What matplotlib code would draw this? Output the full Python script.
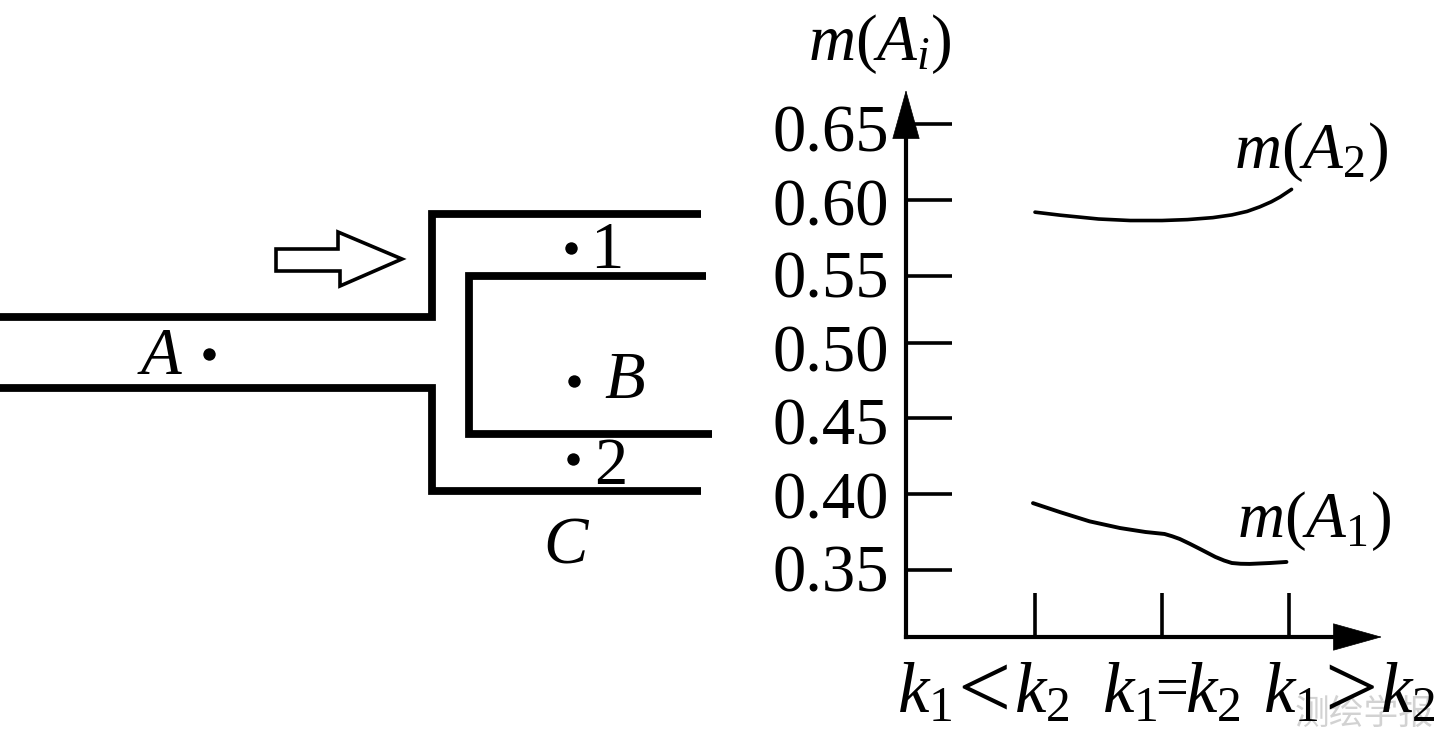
import matplotlib
matplotlib.use("Agg")
import matplotlib.pyplot as plt
import numpy as np
from matplotlib.patches import Polygon
from matplotlib.ticker import NullLocator
from matplotlib.transforms import ScaledTranslation

plt.rcParams["font.family"] = ["Liberation Serif", "DejaVu Sans"]
plt.rcParams["mathtext.fontset"] = "custom"
plt.rcParams["mathtext.rm"] = "Liberation Serif"
plt.rcParams["mathtext.it"] = "Liberation Serif:italic"
plt.rcParams["mathtext.bf"] = "Liberation Serif:bold"

# chart values
y_ticks = [0.35, 0.40, 0.45, 0.50, 0.55, 0.60, 0.65]
y_tick_px = [570, 494, 418, 343, 276, 200, 124]  # ticks are not evenly drawn in the source
x_ticks = [0, 1, 2]

a2_x = [0, 0.2, 0.5, 0.75, 1, 1.2, 1.4, 1.55, 1.67, 1.77, 1.86, 1.93, 2.02]
a2_y = [0.592, 0.590, 0.5875, 0.5865, 0.5865, 0.5871, 0.5884, 0.5902, 0.5925, 0.5955, 0.5988, 0.602, 0.607]
a1_x = [-0.016, 0.2, 0.43, 0.67, 0.87, 1.02, 1.08, 1.14, 1.22, 1.3, 1.42, 1.49, 1.55, 1.62, 1.69, 1.85, 1.98]
a1_y = [0.394, 0.388, 0.382, 0.3776, 0.375, 0.3737, 0.3722, 0.3704, 0.3672, 0.3638, 0.3586, 0.3562, 0.3546, 0.3541, 0.354, 0.3546, 0.3553]

# schematic
upper_wall = ([0, 432, 432, 701], [317, 317, 214, 214])
lower_wall = ([0, 432, 432, 701], [388, 388, 491, 491])
inner_wall = ([706, 469, 469, 712], [276, 276, 434, 434])
dots_x = [209, 571, 574, 573]
dots_y = [354, 248, 381, 459]
flow_arrow = [(276, 249), (338, 249), (338, 232), (402, 259), (340, 286), (340, 271), (276, 271)]

W, H = 1434, 744
fig = plt.figure(figsize=(W / 100, H / 100), dpi=100)

# overlay in pixel coordinates for the duct drawing
bg = fig.add_axes([0, 0, 1, 1])
bg.set_xlim(0, W)
bg.set_ylim(H, 0)
bg.axis("off")
for wall in (upper_wall, lower_wall, inner_wall):
    bg.plot(wall[0], wall[1], color="black", lw=5.6, solid_joinstyle="miter", solid_capstyle="butt")
bg.scatter(dots_x, dots_y, s=80, color="black", linewidths=0)
bg.add_patch(Polygon(flow_arrow, closed=True, fc="white", ec="black", lw=2.6, joinstyle="miter"))

fs = 48
for s, x, y in [(r"$A$", 160, 358), ("1", 607, 252), (r"$B$", 625, 382), ("2", 611, 468), (r"$C$", 567, 546)]:
    bg.text(x, y, s, fontsize=fs, ha="center", va="center")

# chart axes
left, right, top, bottom = 906, 1382, 90, 637
ax = fig.add_axes([left / W, 1 - bottom / H, (right - left) / W, (bottom - top) / H])
ax.patch.set_alpha(0)
ax.set_xlim(-(1035 - left) / 127, (right - 1035) / 127)

# y scale follows the drawn tick positions
v = np.array(y_ticks)
p = -np.array(y_tick_px, dtype=float)
slope = (p[-1] - p[0]) / (v[-1] - v[0])
def forward(a):
    a = np.asarray(a, dtype=float)
    return np.where(a < v[0], p[0] + (a - v[0]) * slope,
                    np.where(a > v[-1], p[-1] + (a - v[-1]) * slope, np.interp(a, v, p)))
def inverse(a):
    a = np.asarray(a, dtype=float)
    return np.where(a < p[0], v[0] + (a - p[0]) / slope,
                    np.where(a > p[-1], v[-1] + (a - p[-1]) / slope, np.interp(a, p, v)))
ax.set_yscale("function", functions=(forward, inverse))
y_low, y_high = float(inverse(-bottom)), float(inverse(-top))
ax.set_ylim(y_low, y_high)

ax.plot(a2_x, a2_y, color="black", lw=2.6, solid_capstyle="round")
ax.plot(a1_x, a1_y, color="black", lw=2.8, solid_capstyle="round")

for side in ("top", "right"):
    ax.spines[side].set_visible(False)
for side in ("left", "bottom"):
    ax.spines[side].set_linewidth(3)
ax.spines["left"].set_bounds(y_low, float(inverse(-120)))
ax.spines["bottom"].set_bounds(ax.get_xlim()[0], (1345 - 1035) / 127)

ax.set_yticks(y_ticks)
ax.set_yticklabels(["%.2f" % t for t in y_ticks], fontsize=fs)
ax.yaxis.set_minor_locator(NullLocator())
ax.set_xticks(x_ticks)
ax.set_xticklabels(["", "", ""])
ax.tick_params(axis="y", direction="in", length=33, width=2.6, pad=12)
ax.tick_params(axis="x", direction="in", length=32, width=2.6)

# labels sit a little lower than their ticks in the source
for lab, dy in zip(ax.get_yticklabels(), [-2, 1, 3, 5, -2, 2, 4]):
    lab.set_transform(lab.get_transform() + ScaledTranslation(0, -dy / 100, fig.dpi_scale_trans))

# arrow heads
head = dict(arrowstyle="-|>,head_length=3.4,head_width=0.95", color="black", lw=0.5, shrinkA=0, shrinkB=0)
ax.annotate("", xy=(0, 1.0), xycoords="axes fraction", xytext=(0, 0.9), textcoords="axes fraction", arrowprops=head)
ax.annotate("", xy=(1.0, 0), xycoords="axes fraction", xytext=(0.9, 0), textcoords="axes fraction", arrowprops=head)

# text around the chart
fm = 47
bg.text(880, 44, r"$m(A_i)$", fontsize=fm, ha="center", va="center")
bg.text(1311, 152, r"$m(A_2)$", fontsize=fm, ha="center", va="center")
bg.text(1314, 521, r"$m(A_1)$", fontsize=fm, ha="center", va="center")

# k labels: comparison signs are drawn wide in the source
fk = 51
for s, x in [(r"$k_1$", 925), (r"$k_2$", 1042), (r"$k_1$", 1130), (r"$k_2$", 1213), (r"$k_1$", 1291), (r"$k_2$", 1408)]:
    bg.text(x, 695, s, fontsize=fk, ha="center", va="center")
bg.text(984, 696, "<", fontsize=68, ha="center", va="center")
bg.text(1172, 692, "=", fontsize=42, ha="center", va="center")
bg.text(1351, 696, ">", fontsize=68, ha="center", va="center")

# watermark
bg.text(1364, 714, "测绘学报", fontsize=25, color="#d2d2d2", ha="center", va="center",
        family=["Noto Sans CJK SC", "DejaVu Sans"], zorder=2)

fig.savefig("out.png", dpi=100)
